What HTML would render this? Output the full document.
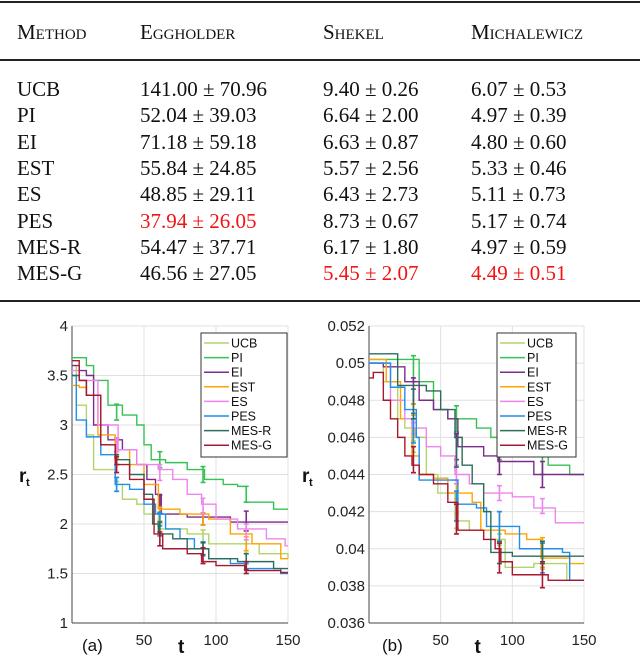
<!DOCTYPE html>
<html><head><meta charset="utf-8"><style>
body{margin:0;background:#fff;width:640px;height:657px;overflow:hidden;position:relative;font-family:"Liberation Serif",serif}
.t{position:absolute;font-size:21px;color:#111;white-space:nowrap}
.sc{font-variant:small-caps}
.red{color:#f01414}
.rule{position:absolute;left:0;width:640px;background:#222}
svg{position:absolute;left:0;top:0}
svg text{font-family:"Liberation Sans",sans-serif}
</style></head><body>
<div class="rule" style="top:1px;height:2px"></div>
<div class="rule" style="top:59px;height:1.5px"></div>
<div class="rule" style="top:300px;height:2px"></div>
<div id="tbl"></div>
<svg id="chart" width="640" height="657"></svg>
<script>
const rowsM=["UCB","PI","EI","EST","ES","PES","MES-R","MES-G"];
const egg=["141.00 ± 70.96","52.04 ± 39.03","71.18 ± 59.18","55.84 ± 24.85","48.85 ± 29.11","37.94 ± 26.05","54.47 ± 37.71","46.56 ± 27.05"];
const shek=["9.40 ± 0.26","6.64 ± 2.00","6.63 ± 0.87","5.57 ± 2.56","6.43 ± 2.73","8.73 ± 0.67","6.17 ± 1.80","5.45 ± 2.07"];
const mich=["6.07 ± 0.53","4.97 ± 0.39","4.80 ± 0.60","5.33 ± 0.46","5.11 ± 0.73","5.17 ± 0.74","4.97 ± 0.59","4.49 ± 0.51"];
const tbl=document.getElementById('tbl');
function cell(txt,x,y,cls,name){const d=document.createElement('div');d.className='t '+(cls||'');d.style.left=x+'px';d.style.top=y+'px';d.textContent=txt;


tbl.appendChild(d);}
cell("Method",17,20,'sc','header-method');cell("Eggholder",140,20,'sc','header-eggholder');cell("Shekel",323,20,'sc','header-shekel');cell("Michalewicz",471,20,'sc','header-michalewicz');
rowsM.forEach((m,i)=>{const y=77+i*26.3;
cell(m,17,y,'','row-label');
cell(egg[i],140,y,i==5?'red':'','eggholder-value');
cell(shek[i],323,y,i==7?'red':'','shekel-value');
cell(mich[i],471,y,i==7?'red':'','michalewicz-value');});

const names=["UCB","PI","EI","EST","ES","PES","MES-R","MES-G"];
const colors=["#b3d46a","#35c253","#7d2c8c","#ffa400","#ee85ee","#1f8fec","#2c6d5c","#a8182e"];
const aT=[
[0,3,10,15,30,35,45,50,60,80,95,130,150],
[0,10,15,25,35,45,50,55,65,80,92,105,115,121,140],
[0,5,10,15,25,35,45,52,58,62,80,110],
[0,5,10,18,30,40,50,60,75,95,110,125,145],
[0,5,18,32,45,60,70,80,90,100,115,135,148],
[0,3,10,20,30,40,50,58,65,75,85,95,110,120,145],
[0,5,10,20,30,40,50,56,60,70,80,95,115,140],
[0,5,10,20,30,40,50,57,63,80,90,100,120,145]];
const aV=[
[3.6,3.2,2.9,2.55,2.4,2.25,2.2,2.1,1.95,1.9,1.8,1.7,1.65],
[3.68,3.6,3.45,3.2,3.1,3.0,2.8,2.65,2.62,2.55,2.45,2.4,2.38,2.22,2.15],
[3.6,3.55,3.5,3.0,2.85,2.75,2.6,2.45,2.3,2.1,2.07,2.02],
[3.4,3.38,3.3,2.9,2.75,2.6,2.4,2.15,2.1,2.05,1.9,1.8,1.65],
[3.55,3.45,3.0,2.75,2.6,2.55,2.45,2.3,2.2,2.05,1.95,1.85,1.78],
[3.5,3.05,2.88,2.7,2.4,2.35,2.2,2.1,1.95,1.85,1.75,1.65,1.6,1.55,1.5],
[3.5,3.45,3.3,2.8,2.65,2.5,2.3,2.0,1.9,1.85,1.75,1.65,1.62,1.55],
[3.65,3.45,3.3,2.8,2.6,2.45,2.25,1.9,1.75,1.7,1.62,1.58,1.53,1.51]];
const errT=[31,61,91,121];
const aErrV=[[2.38,1.95,1.88,1.75],[3.13,2.65,2.5,2.3],[2.8,2.2,2.05,2.03],[2.75,2.1,2.05,1.8],[2.8,2.52,2.18,1.92],[2.4,2.05,1.75,1.55],[2.65,1.95,1.75,1.62],[2.6,1.85,1.68,1.56]];
const aErrE=[[0.05,0.05,0.06,0.05],[0.08,0.08,0.08,0.08],[0.07,0.09,0.06,0.1],[0.09,0.07,0.06,0.07],[0.07,0.08,0.08,0.08],[0.07,0.07,0.07,0.05],[0.05,0.07,0.06,0.08],[0.08,0.07,0.08,0.06]];
const bT=[
[0,10,20,25,32,40,48,60,70,85,95,115,138],
[0,30,35,45,55,75,85,95,110,125,140],
[0,10,25,35,45,55,62,80,90,115],
[0,12,22,30,35,45,55,62,72,78,95,110,120,140],
[0,15,25,30,40,50,60,70,80,100,115,130],
[0,15,25,33,35,50,62,75,82,100,105,135,140],
[0,10,20,40,50,60,65,72,80,85,100],
[0,3,10,15,20,25,30,35,45,55,62,80,88,92,100,125]];
const bV=[
[0.05,0.049,0.047,0.0465,0.046,0.044,0.043,0.0415,0.041,0.0405,0.039,0.0392,0.0383],
[0.0502,0.0502,0.049,0.0475,0.047,0.0465,0.046,0.0455,0.045,0.0445,0.044],
[0.05,0.0498,0.049,0.048,0.0475,0.047,0.0455,0.045,0.0447,0.044],
[0.0502,0.049,0.047,0.045,0.044,0.0438,0.043,0.043,0.0425,0.041,0.0408,0.0405,0.0395,0.0392],
[0.05,0.048,0.047,0.0465,0.0455,0.045,0.044,0.0435,0.043,0.0428,0.0422,0.0414],
[0.05,0.0487,0.0475,0.046,0.0437,0.0437,0.0424,0.0422,0.0412,0.0412,0.04,0.0398,0.0383],
[0.0505,0.0505,0.0488,0.0485,0.0475,0.046,0.0445,0.0435,0.042,0.0398,0.0396],
[0.0492,0.0495,0.048,0.047,0.046,0.045,0.0445,0.044,0.0435,0.0425,0.041,0.0405,0.04,0.0393,0.0386,0.0383]];
const bErrV=[[0.0455,0.0415,0.0405,0.0392],[0.0497,0.047,0.0455,0.0447],[0.0485,0.0455,0.0447,0.044],[0.0475,0.0432,0.0412,0.0398],[0.0465,0.044,0.043,0.0423],[0.0465,0.0423,0.0412,0.0395],[0.0478,0.0452,0.0398,0.0398],[0.0448,0.0416,0.0395,0.0386]];
const bErrE=[[0.0003,0.0004,0.0003,0.0003],[0.0007,0.0007,0.0007,0.0007],[0.0007,0.0007,0.0007,0.0007],[0.0003,0.0005,0.0008,0.0008],[0.0003,0.0005,0.0004,0.0004],[0.0008,0.0008,0.0008,0.0008],[0.0008,0.0008,0.0006,0.0006],[0.0007,0.0008,0.0008,0.0007]];
const aTicks=[1,1.5,2,2.5,3,3.5,4];
const bTicks=["0.036","0.038","0.04","0.042","0.044","0.046","0.048","0.05","0.052"];
const xTicks=[50,100,150];

const svg=document.getElementById('chart');const NS="http://www.w3.org/2000/svg";
function el(tag,attrs,name){const e=document.createElementNS(NS,tag);for(const k in attrs)e.setAttribute(k,attrs[k]);


svg.appendChild(e);return e;}
function chart(o){
  const {L,R,T,B,ymin,ymax,yt,ytl,S,V,EV,EE,leg,tag,tagX,labX,key}=o;
  const x=t=>L+(R-L)*t/150, y=v=>B-(B-T)*(v-ymin)/(ymax-ymin);
  xTicks.forEach(t=>el('line',{x1:x(t),x2:x(t),y1:T,y2:B,stroke:'#e0e0e0','stroke-width':1},key+'-x-grid'));
  yt.forEach(v=>el('line',{x1:L,x2:R,y1:y(v),y2:y(v),stroke:'#e0e0e0','stroke-width':1},key+'-y-grid'));
  el('line',{x1:L,x2:L,y1:T,y2:B,stroke:'#444','stroke-width':1},key+'-y-axis');
  el('line',{x1:L,x2:R,y1:B,y2:B,stroke:'#444','stroke-width':1},key+'-x-axis');
  yt.forEach((v,i)=>{const e=el('text',{x:L-4,y:y(v)+5,'text-anchor':'end','font-size':15,fill:'#222'},key+'-y-tick-label');e.textContent=ytl[i];});
  xTicks.forEach(t=>{const e=el('text',{x:x(t),y:B+22,'text-anchor':'middle','font-size':15,fill:'#222'},key+'-x-tick-label');e.textContent=t;});
  S.forEach((ts,i)=>{let d='M'+x(ts[0])+' '+y(V[i][0]);for(let j=1;j<ts.length;j++)d+=' H'+x(ts[j])+' V'+y(V[i][j]);d+=' H'+x(150);
    el('path',{d:d,fill:'none',stroke:colors[i],'stroke-width':1.4},key+'-series-'+names[i].toLowerCase());
    errT.forEach((t,k)=>{const cx=x(t),v=EV[i][k],e=EE[i][k];
      el('path',{d:`M${cx} ${y(v-e)} V${y(v+e)} M${cx-2.5} ${y(v-e)} H${cx+2.5} M${cx-2.5} ${y(v+e)} H${cx+2.5}`,stroke:colors[i],'stroke-width':1.6,fill:'none'},key+'-error-bar');});
  });
  el('rect',{x:leg[0],y:333,width:leg[1]-leg[0],height:124,fill:'#fff',stroke:'#333','stroke-width':1},key+'-legend');
  names.forEach((n,i)=>{const yy=343+i*14.6;
    el('line',{x1:leg[0]+3,x2:leg[0]+28,y1:yy,y2:yy,stroke:colors[i],'stroke-width':1.5},key+'-legend-swatch');
    const e=el('text',{x:leg[0]+30,y:yy+4.5,'font-size':12.5,fill:'#111'},key+'-legend-entry');e.textContent=n;});
  const t1=el('text',{x:tagX,y:651,'font-size':17,fill:'#111'},key+'-panel-label');t1.textContent=tag;
  const t2=el('text',{x:(L+R)/2-2,y:653,'font-size':19,'font-weight':'bold',fill:'#111'},key+'-x-axis-title');t2.textContent='t';
  const t3=el('text',{x:labX,y:482,'font-size':19,'font-weight':'bold',fill:'#111'},key+'-y-axis-title');t3.textContent='r';
  const t4=el('text',{x:labX+7,y:486,'font-size':11,'font-weight':'bold',fill:'#111'},key+'-y-axis-subscript');t4.textContent='t';
}
chart({key:'chart-a',L:72,R:288,T:326,B:623,ymin:1,ymax:4,yt:aTicks,ytl:aTicks.map(String),S:aT,V:aV,EV:aErrV,EE:aErrE,leg:[201,287],tag:'(a)',tagX:82,labX:19});
chart({key:'chart-b',L:369,R:584,T:326,B:623,ymin:0.036,ymax:0.052,yt:bTicks.map(Number),ytl:bTicks,S:bT,V:bV,EV:bErrV,EE:bErrE,leg:[497,576],tag:'(b)',tagX:382,labX:302});
</script>
</body></html>
